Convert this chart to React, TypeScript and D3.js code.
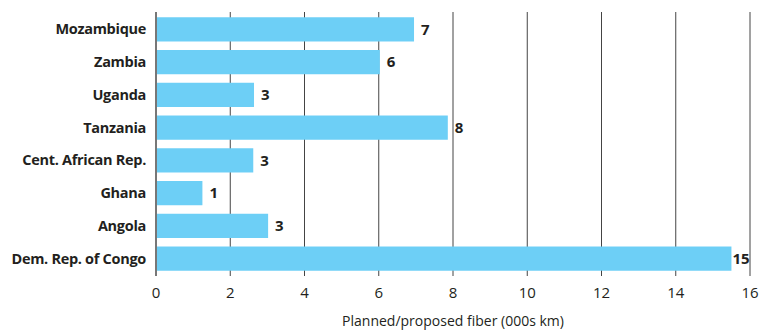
import React from "react";
import * as d3 from "d3";

const countries = [
  "Mozambique",
  "Zambia",
  "Uganda",
  "Tanzania",
  "Cent. African Rep.",
  "Ghana",
  "Angola",
  "Dem. Rep. of Congo",
];
const fiberKm = [6.95, 6.03, 2.64, 7.86, 2.62, 1.25, 3.02, 15.5];
const valueLabels = ["7", "6", "3", "8", "3", "1", "3", "15"];
const xTickValues = [0, 2, 4, 6, 8, 10, 12, 14, 16];

const width = 767;
const height = 330;
const margin = { top: 12, right: 16, bottom: 54, left: 156 };
const font = "'Open Sans', sans-serif";
const ink = "#231f20";

const App: React.FC = () => {
  const innerW = width - margin.left - margin.right;
  const innerH = height - margin.top - margin.bottom;

  const x = d3.scaleLinear().domain([0, 16]).range([0, innerW - 1]);
  const y = d3
    .scaleBand<string>()
    .domain(countries)
    .range([1, innerH - 1])
    .paddingInner(0.26)
    .paddingOuter(0.13);

  return (
    <svg
      width={width}
      height={height}
      style={{ position: "absolute", left: 0, top: 0, background: "#fff" }}
    >
      <g transform={`translate(${margin.left},${margin.top})`}>
        {/* grid lines, also serve as ticks */}
        {xTickValues.map((t) => (
          <line
            key={t}
            x1={x(t)}
            x2={x(t)}
            y1={0}
            y2={innerH}
            stroke={t === 0 ? "#555" : "#444"}
            strokeWidth={t === 0 ? 1.6 : 1}
          />
        ))}

        {/* bars */}
        {countries.map((c, i) => (
          <rect
            key={c}
            x={x(0) + 1}
            y={y(c)}
            width={x(fiberKm[i]) - x(0) - 1}
            height={y.bandwidth()}
            fill="#6dcff6"
          />
        ))}

        {/* value labels */}
        {countries.map((c, i) => (
          <text
            key={c}
            x={x(fiberKm[i]) + (fiberKm[i] > 15 ? 1 : 7)}
            y={(y(c) ?? 0) + y.bandwidth() / 2}
            dy="0.35em"
            fontFamily={font}
            fontWeight={700}
            fontSize={15}
            fill={ink}
          >
            {valueLabels[i]}
          </text>
        ))}

        {/* category labels */}
        {countries.map((c) => (
          <text
            key={c}
            x={-10}
            y={(y(c) ?? 0) + y.bandwidth() / 2}
            dy="0.35em"
            textAnchor="end"
            fontFamily={font}
            fontWeight={700}
            fontSize={14.5}
            letterSpacing={-0.3}
            fill={ink}
          >
            {c}
          </text>
        ))}

        {/* x tick labels */}
        {xTickValues.map((t) => (
          <text
            key={t}
            x={x(t)}
            y={innerH + 17}
            dy="0.35em"
            textAnchor="middle"
            fontFamily={font}
            fontSize={15}
            fill={ink}
          >
            {t}
          </text>
        ))}

        <text
          x={x(8)}
          y={innerH + 45}
          dy="0.35em"
          textAnchor="middle"
          fontFamily={font}
          fontSize={14}
          fill={ink}
        >
          Planned/proposed fiber (000s km)
        </text>
      </g>
    </svg>
  );
};

export default App;
